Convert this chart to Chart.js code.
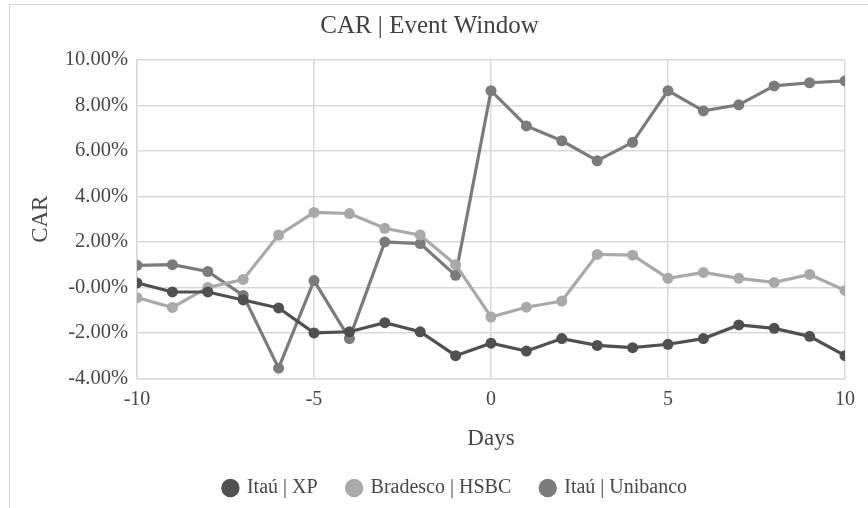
<!DOCTYPE html>
<html>
<head>
<meta charset="utf-8">
<script src="https://cdn.jsdelivr.net/npm/chart.js@4"></script>
<style>
  html, body { margin: 0; padding: 0; background: #fff; }
  #wrap { position: relative; width: 868px; height: 508px; }
  #frame { position: absolute; left: 9px; top: 4px; width: 870px; height: 520px; border: 1px solid #d0d0d0; box-sizing: border-box; pointer-events: none; }
</style>
</head>
<body>
<div id="wrap">
  <canvas id="chart" width="868" height="508"></canvas>
  <div id="frame"></div>
</div>
<script>
// Datos (CAR en %)
const dias = [-10, -9, -8, -7, -6, -5, -4, -3, -2, -1, 0, 1, 2, 3, 4, 5, 6, 7, 8, 9, 10];
const itauXP = [0.2, -0.2, -0.2, -0.55, -0.9, -2.0, -1.95, -1.55, -1.95, -3.0, -2.45, -2.8, -2.25, -2.55, -2.65, -2.5, -2.25, -1.65, -1.8, -2.15, -3.0];
const bradescoHSBC = [-0.45, -0.88, 0.0, 0.35, 2.3, 3.3, 3.25, 2.6, 2.3, 1.0, -1.3, -0.87, -0.6, 1.45, 1.42, 0.4, 0.66, 0.4, 0.22, 0.57, -0.13];
const itauUnibanco = [0.97, 1.0, 0.7, -0.35, -3.55, 0.3, -2.25, 2.0, 1.93, 0.53, 8.65, 7.1, 6.45, 5.57, 6.38, 8.65, 7.76, 8.03, 8.86, 9.0, 9.08];
const yTicks = [-4, -2, 0, 2, 4, 6, 8, 10];
const yTickLabels = ['-4.00%', '-2.00%', '-0.00%', '2.00%', '4.00%', '6.00%', '8.00%', '10.00%'];
const series = ['Itaú | XP', 'Bradesco | HSBC', 'Itaú | Unibanco'];

const FUENTE = "'Liberation Serif', 'Times New Roman', serif";
const TEXTO = '#474747';

function serie(label, valores, color) {
    return {
        label: label,
        data: dias.map((d, i) => ({ x: d, y: valores[i] })),
        borderColor: color,
        backgroundColor: color,
        borderWidth: 3.2,
        pointRadius: 5.5,
        pointHoverRadius: 5.5,
        pointBorderWidth: 0,
        tension: 0
    };
}

// En el original la leyenda está algo a la derecha del centro
const moverLeyenda = {
    id: 'moverLeyenda',
    afterLayout(chart) {
        chart.legend.left += 26;
        chart.legend.right += 26;
    }
};

const ctx = document.getElementById('chart').getContext('2d');
new Chart(ctx, {
    type: 'line',
    data: {
        datasets: [
            serie(series[0], itauXP, '#505050'),
            serie(series[1], bradescoHSBC, '#a9a9a9'),
            serie(series[2], itauUnibanco, '#7b7b7b')
        ]
    },
    plugins: [moverLeyenda],
    options: {
        responsive: false,
        animation: false,
        layout: { padding: { left: 14, right: 23, top: 8, bottom: 0 } },
        plugins: {
            title: {
                display: true,
                text: 'CAR | Event Window',
                color: '#404040',
                font: { family: FUENTE, size: 25, weight: 'normal' },
                padding: { top: 3, bottom: 19 }
            },
            legend: {
                position: 'bottom',
                labels: {
                    color: TEXTO,
                    font: { family: FUENTE, size: 20 },
                    usePointStyle: true,
                    pointStyle: 'circle',
                    boxWidth: 13,
                    boxHeight: 13,
                    padding: 30
                }
            },
            tooltip: { enabled: false }
        },
        scales: {
            x: {
                type: 'linear',
                min: -10,
                max: 10,
                ticks: { stepSize: 5, color: TEXTO, font: { family: FUENTE, size: 20 }, padding: 9 },
                grid: { color: '#d9d9d9', lineWidth: 1.5, drawTicks: false },
                border: { color: '#d9d9d9', width: 1.5 },
                title: { display: true, text: 'Days', color: TEXTO, font: { family: FUENTE, size: 23 }, padding: { top: 5, bottom: -5 } }
            },
            y: {
                min: -4,
                max: 10,
                afterBuildTicks: s => { s.ticks = yTicks.map(v => ({ value: v })); },
                afterFit: s => { s.width = 123; },
                ticks: {
                    color: TEXTO,
                    font: { family: FUENTE, size: 20.5 },
                    padding: 9,
                    callback: (v) => yTickLabels[yTicks.indexOf(v)]
                },
                grid: { color: '#d9d9d9', lineWidth: 1.5, drawTicks: false },
                border: { color: '#d9d9d9', width: 1.5 },
                title: { display: true, text: 'CAR', color: TEXTO, font: { family: FUENTE, size: 23 }, padding: { top: 13, bottom: 6 } }
            }
        }
    }
});
</script>
</body>
</html>
